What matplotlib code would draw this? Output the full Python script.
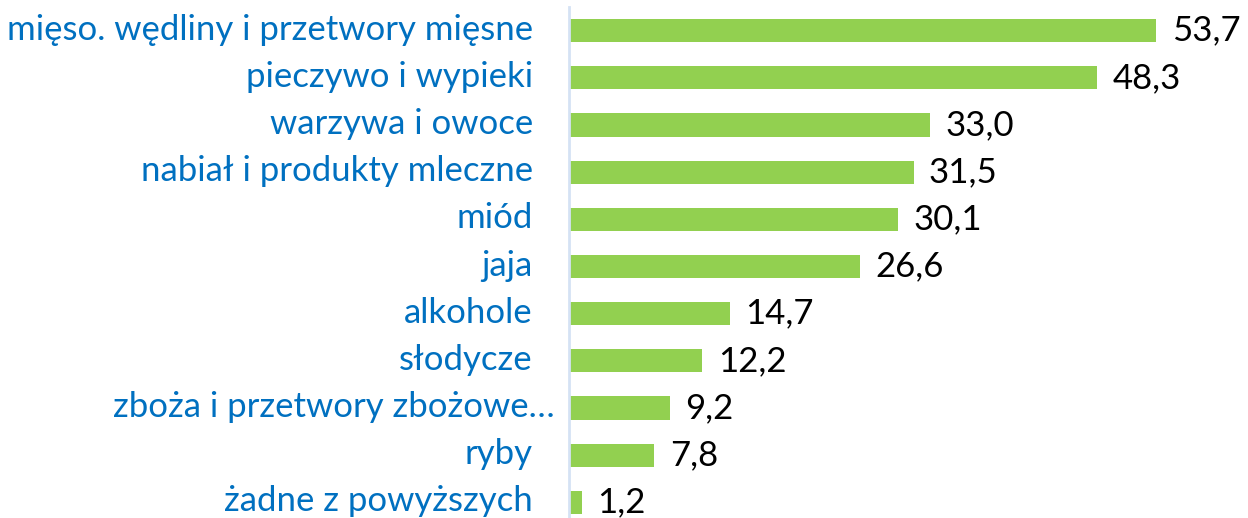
import matplotlib
matplotlib.use("Agg")
from matplotlib import pyplot as plt
from matplotlib import transforms

categories = ["mięso. wędliny i przetwory mięsne", "pieczywo i wypieki", "warzywa i owoce",
              "nabiał i produkty mleczne", "miód", "jaja", "alkohole", "słodycze",
              "zboża i przetwory zbożowe…", "ryby", "żadne z powyższych"]
values = [53.7, 48.3, 33.0, 31.5, 30.1, 26.6, 14.7, 12.2, 9.2, 7.8, 1.2]

plt.rcParams['font.family'] = ['Lato', 'DejaVu Sans']

W, H = 1248, 518
fig = plt.figure(figsize=(W / 100, H / 100), dpi=100)
# axis spans: x 569px -> 1225px for 0..60, y from 7px down past the bottom
ax = fig.add_axes([569 / W, (518 - 526) / H, (60 * 10.94) / W, 519 / H])

pos = list(range(len(categories)))
ax.barh(pos, values, height=0.49, color="#92D050")
ax.set_xlim(0, 60)
ax.set_ylim(len(categories) - 0.5, -0.5)

for p, v in zip(pos, values):
    ax.text(v + 1.4, p, "{:.1f}".format(v).replace(".", ","), va="center", ha="left",
            fontsize=25, color="black")

ax.set_yticks(pos)
ax.set_yticklabels(categories, fontsize=25, color="#0070C0")
ax.tick_params(axis="y", length=0, pad=26)
ax.set_xticks([])

# nudge labels up a little; the truncated one sticks out to the right as in the original
for i, lab in enumerate(ax.get_yticklabels()):
    dx = 0.22 if i == 8 else 0
    lab.set_transform(lab.get_transform() + transforms.ScaledTranslation(dx, 0.04, fig.dpi_scale_trans))

for s in ["top", "right", "bottom"]:
    ax.spines[s].set_visible(False)
ax.spines["left"].set_color("#D5E2F4")
ax.spines["left"].set_linewidth(2)

fig.savefig("out.png", dpi=100)
